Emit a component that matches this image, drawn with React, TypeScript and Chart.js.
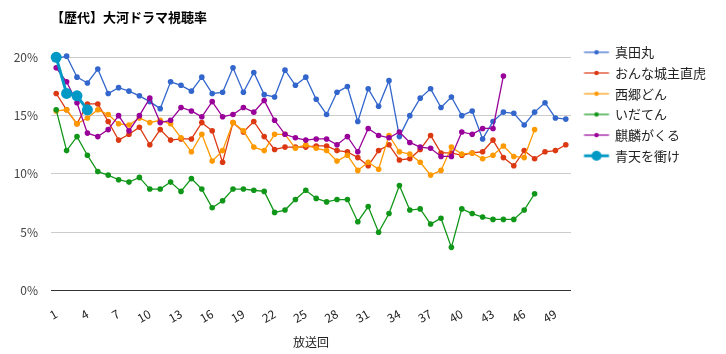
import React, { useEffect, useRef } from 'react';
import { Chart, registerables } from 'chart.js';

Chart.register(...registerables);

const TITLE = '【歴代】大河ドラマ視聴率';
const X_TITLE = '放送回';
const FONT = '"Noto Sans CJK JP", "Noto Sans", sans-serif';

const episodes = [
  '1', '2', '3', '4', '5', '6', '7', '8', '9', '10',
  '11', '12', '13', '14', '15', '16', '17', '18', '19', '20',
  '21', '22', '23', '24', '25', '26', '27', '28', '29', '30',
  '31', '32', '33', '34', '35', '36', '37', '38', '39', '40',
  '41', '42', '43', '44', '45', '46', '47', '48', '49', '50',
];

const yTicks = [0, 5, 10, 15, 20];

const seriesNames = ['真田丸', 'おんな城主直虎', '西郷どん', 'いだてん', '麒麟がくる', '青天を衝け'];
const seriesColors = ['#3366cc', '#dc3912', '#ff9900', '#109618', '#990099', '#0099c6'];

const sanadamaru = [
  19.9, 20.1, 18.3, 17.8, 19.0, 16.9, 17.4, 17.1, 16.7, 16.2,
  15.6, 17.9, 17.6, 17.1, 18.3, 16.9, 17.0, 19.1, 17.0, 18.7,
  16.8, 16.6, 18.9, 17.6, 18.3, 16.4, 15.1, 17.0, 17.5, 14.5,
  17.3, 15.8, 18.0, 13.2, 15.0, 16.5, 17.3, 15.7, 16.6, 15.0,
  15.4, 13.0, 14.5, 15.3, 15.2, 14.2, 15.3, 16.1, 14.8, 14.7,
];

const naotora = [
  16.9, 15.5, 14.3, 16.0, 16.0, 14.5, 12.9, 13.4, 14.0, 12.5,
  13.8, 12.9, 13.0, 13.0, 14.4, 13.7, 11.0, 14.4, 13.6, 14.5,
  13.2, 12.1, 12.3, 12.3, 12.3, 12.4, 12.4, 12.0, 11.9, 11.4,
  10.7, 12.0, 12.5, 11.2, 11.3, 12.1, 13.3, 11.8, 11.8, 11.6,
  11.8, 11.9, 12.9, 11.4, 10.7, 12.0, 11.3, 11.9, 12.0, 12.5,
];

const segodon = [
  15.4, 15.5, 14.3, 14.8, 15.5, 15.1, 14.3, 14.2, 14.8, 14.4,
  14.6, 14.3, 13.1, 11.9, 13.4, 11.1, 12.0, 14.4, 13.7, 12.3,
  12.0, 13.4, 13.4, 12.2, 12.5, 12.2, 12.0, 11.1, 11.6, 10.3,
  11.0, 10.4, 13.3, 11.9, 11.7, 11.0, 9.9, 10.3, 12.3, 11.7,
  11.8, 11.3, 11.6, 12.4, 11.5, 11.4, 13.8,
];

const idaten = [
  15.5, 12.0, 13.2, 11.6, 10.2, 9.9, 9.5, 9.3, 9.7, 8.7,
  8.7, 9.3, 8.5, 9.6, 8.7, 7.1, 7.7, 8.7, 8.7, 8.6,
  8.5, 6.7, 6.9, 7.8, 8.6, 7.9, 7.6, 7.8, 7.8, 5.9,
  7.2, 5.0, 6.6, 9.0, 6.9, 7.0, 5.7, 6.2, 3.7, 7.0,
  6.6, 6.3, 6.1, 6.1, 6.1, 6.9, 8.3,
];

const kirin = [
  19.1, 17.9, 16.1, 13.5, 13.2, 13.8, 15.0, 13.7, 15.0, 16.5,
  14.4, 14.6, 15.7, 15.4, 14.9, 16.2, 14.9, 15.1, 15.7, 15.3,
  16.3, 14.6, 13.4, 13.1, 12.9, 13.0, 13.0, 12.5, 13.2, 11.9,
  13.9, 13.3, 13.1, 13.6, 12.7, 12.3, 12.2, 11.5, 11.5, 13.6,
  13.4, 13.9, 13.9, 18.4,
];

const seiten = [20.0, 16.9, 16.7, 15.5];

const seriesValues = [sanadamaru, naotora, segodon, idaten, kirin, seiten];

function makeLegendIcon(color: string, lineWidth: number, radius: number) {
  const c = document.createElement('canvas');
  c.width = 34;
  c.height = 12;
  const g = c.getContext('2d')!;
  g.strokeStyle = color;
  g.lineWidth = lineWidth;
  g.beginPath();
  g.moveTo(7.4, 6);
  g.lineTo(32.4, 6);
  g.stroke();
  g.fillStyle = color;
  g.beginPath();
  g.arc(19.9, 6, radius, 0, Math.PI * 2);
  g.fill();
  return c;
}

const titlePlugin = {
  id: 'leftTitle',
  afterDraw(chart: any) {
    const ctx = chart.ctx;
    ctx.save();
    ctx.font = 'bold 13px ' + FONT;
    ctx.fillStyle = '#000';
    ctx.textBaseline = 'middle';
    ctx.textAlign = 'left';
    ctx.fillText(TITLE, chart.chartArea.left, 17.5);
    ctx.restore();
  },
};

export default function App() {
  const ref = useRef<HTMLCanvasElement>(null);

  useEffect(() => {
    const canvas = ref.current!;
    const icons = seriesColors.map((c, i) =>
      i === 5 ? makeLegendIcon(c, 2.8, 5) : makeLegendIcon(c, 1.2, 2.2)
    );

    const datasets = seriesNames.map((name, i) => {
      const big = i === 5;
      return {
        label: name,
        data: seriesValues[i],
        borderColor: seriesColors[i],
        backgroundColor: seriesColors[i],
        pointBackgroundColor: seriesColors[i],
        pointBorderWidth: 0,
        pointRadius: big ? 5.5 : 2.8,
        borderWidth: big ? 3 : 1.3,
        tension: 0,
        fill: false,
        order: seriesNames.length - 1 - i,
      };
    });

    const chart = new Chart(canvas, {
      type: 'line',
      data: { labels: episodes, datasets },
      plugins: [titlePlugin],
      options: {
        responsive: false,
        animation: false,
        devicePixelRatio: 1,
        layout: { padding: { top: 38.1, right: 10, bottom: 0, left: 0 } },
        plugins: {
          title: { display: false },
          tooltip: { enabled: false },
          legend: {
            display: true,
            position: 'right',
            align: 'start',
            labels: {
              font: { size: 13, family: FONT },
              color: '#222',
              usePointStyle: true,
              pointStyleWidth: 29.8,
              padding: 7.7,
              generateLabels: () =>
                seriesNames.map((name, i) => ({
                  text: name,
                  pointStyle: icons[i],
                  fillStyle: seriesColors[i],
                  strokeStyle: seriesColors[i],
                  lineWidth: 0,
                  hidden: false,
                  datasetIndex: i,
                  fontColor: '#222',
                })),
            },
          },
        },
        scales: {
          x: {
            type: 'category',
            offset: true,
            grid: { display: false },
            border: { display: false },
            ticks: {
              autoSkip: false,
              minRotation: 30,
              maxRotation: 30,
              padding: 8,
              color: '#222',
              font: { size: 12, family: FONT },
              callback: (_v: any, index: number) => (index % 3 === 0 ? episodes[index] : ''),
            },
            title: {
              display: true,
              text: X_TITLE,
              color: '#222',
              font: { size: 12, family: FONT },
              padding: { top: 0, bottom: 4 },
            },
            afterFit: (scale: any) => {
              scale.height = 63.5;
            },
          },
          y: {
            type: 'linear',
            min: 0,
            max: 21.65,
            border: { display: false },
            grid: {
              drawTicks: false,
              color: (ctx: any) => (ctx.tick && ctx.tick.value === 0 ? '#333' : '#ccc'),
              lineWidth: 1,
            },
            ticks: {
              padding: 13,
              color: '#444',
              font: { size: 12, family: FONT },
              callback: (v: any) => v + '%',
            },
            afterBuildTicks: (scale: any) => {
              scale.ticks = yTicks.map((v) => ({ value: v }));
            },
            afterFit: (scale: any) => {
              scale.width = 51;
            },
          },
        },
      },
    });
    return () => chart.destroy();
  }, []);

  return (
    <div style={{ position: 'fixed', left: 0, top: 0, width: 726, height: 354, background: '#fff' }}>
      <canvas ref={ref} width={726} height={354} style={{ display: 'block', width: 726, height: 354 }} />
    </div>
  );
}
